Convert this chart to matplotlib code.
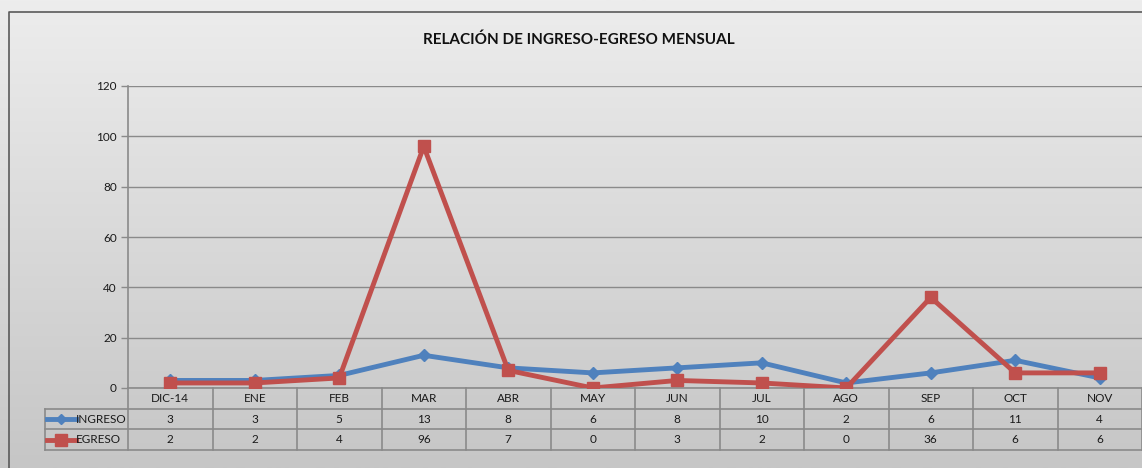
import numpy as np
import matplotlib
matplotlib.use("Agg")
import matplotlib.pyplot as plt
from matplotlib.transforms import blended_transform_factory

categories = ["DIC-14", "ENE", "FEB", "MAR", "ABR", "MAY", "JUN", "JUL", "AGO", "SEP", "OCT", "NOV"]
ingreso = [3, 3, 5, 13, 8, 6, 8, 10, 2, 6, 11, 4]
egreso = [2, 2, 4, 96, 7, 0, 3, 2, 0, 36, 6, 6]
series_names = ["INGRESO", "EGRESO"]
yticks = [0, 20, 40, 60, 80, 100, 120]
title = "RELACIÓN DE INGRESO-EGRESO MENSUAL"

BLUE = "#4F81BD"
RED = "#C0504D"
GRID = "#8a8a8a"
W, H = 1142, 468

plt.rcParams['font.family'] = ['Lato', 'DejaVu Sans']

fig = plt.figure(figsize=(W / 100, H / 100), dpi=100)

# background gradient
bg = fig.add_axes([0, 0, 1, 1], zorder=-10)
grad = np.linspace(237, 198, 256)[:, None] / 255.0
bg.imshow(np.dstack([grad, grad, grad]), aspect='auto', extent=[0, 1, 0, 1])
bg.set_xlim(0, 1); bg.set_ylim(0, 1)
bg.axis('off')
# outer border
x0 = 8.5 / W; y0 = 1 - 11.5 / H
bg.plot([x0, x0, 1.01], [-0.01, y0, y0], color="#5a5a5a", lw=1.2, clip_on=False)

left_px, right_px = 128, 1142
top_px, bot_px = 86, 388
ax = fig.add_axes([left_px / W, 1 - bot_px / H, (right_px - left_px) / W, (bot_px - top_px) / H])
ax.patch.set_alpha(0)
x = np.arange(len(categories))
ax.set_xlim(-0.5, len(categories) - 0.5)
ax.set_ylim(0, 120)
ax.set_yticks(yticks)
ax.set_yticklabels([str(v) for v in yticks], fontsize=8.5, color="#1a1a1a")
ax.tick_params(axis='y', length=5, color=GRID, width=1, pad=3)
ax.set_xticks([])
ax.grid(axis='y', color=GRID, lw=1)
ax.set_axisbelow(True)
for s in ["top", "right", "bottom"]:
    ax.spines[s].set_visible(False)
ax.spines["left"].set_color(GRID)
ax.spines["left"].set_linewidth(1.2)

ax.plot(x, ingreso, color=BLUE, lw=3.5, marker='D', ms=6, mfc=BLUE, mec=BLUE, zorder=3, solid_capstyle='round')
ax.plot(x, egreso, color=RED, lw=3.5, marker='s', ms=9, mfc=RED, mec=RED, zorder=4, solid_capstyle='round')

# data table
axh = bot_px - top_px
rh = 20.7 / axh
colpx = (right_px - left_px) / len(categories)
tr = blended_transform_factory(ax.transData, ax.transAxes)
lc = dict(color=GRID, lw=1.2, clip_on=False)
legend_left = -0.5 - (left_px - 45) / colpx
# horizontal lines
ax.plot([-0.5, len(categories) - 0.5], [0, 0], transform=tr, **lc)
for k in (1, 2, 3):
    ax.plot([legend_left, len(categories) - 0.5], [-k * rh, -k * rh], transform=tr, **lc)
# vertical lines
for i in range(len(categories) + 1):
    ax.plot([i - 0.5, i - 0.5], [0, -3 * rh], transform=tr, **lc)
ax.plot([legend_left, legend_left], [-rh, -3 * rh], transform=tr, **lc)

for i, c in enumerate(categories):
    ax.text(i, -0.5 * rh, c, transform=tr, ha='center', va='center', fontsize=8.5, color="#1a1a1a")
    ax.text(i, -1.5 * rh, str(ingreso[i]), transform=tr, ha='center', va='center', fontsize=8.5, color="#1a1a1a")
    ax.text(i, -2.5 * rh, str(egreso[i]), transform=tr, ha='center', va='center', fontsize=8.5, color="#1a1a1a")

# legend keys in the table
key_x0 = legend_left + 2 / colpx
key_x1 = legend_left + 31 / colpx
for r, (name, col, mk, ms) in enumerate([(series_names[0], BLUE, 'D', 5), (series_names[1], RED, 's', 8)]):
    yy = -(1.5 + r) * rh
    ax.plot([key_x0, key_x1], [yy, yy], transform=tr, color=col, lw=3.5, clip_on=False)
    ax.plot([(key_x0 + key_x1) / 2], [yy], transform=tr, color=col, marker=mk, ms=ms, clip_on=False)
    ax.text(key_x1, yy, name, transform=tr, ha='left', va='center', fontsize=8.5, color="#1a1a1a")

fig.text(579 / W, 1 - 40 / H, title, ha='center', va='center', fontsize=11, fontweight='bold', color="#111111")

fig.savefig("out.png", dpi=100)
